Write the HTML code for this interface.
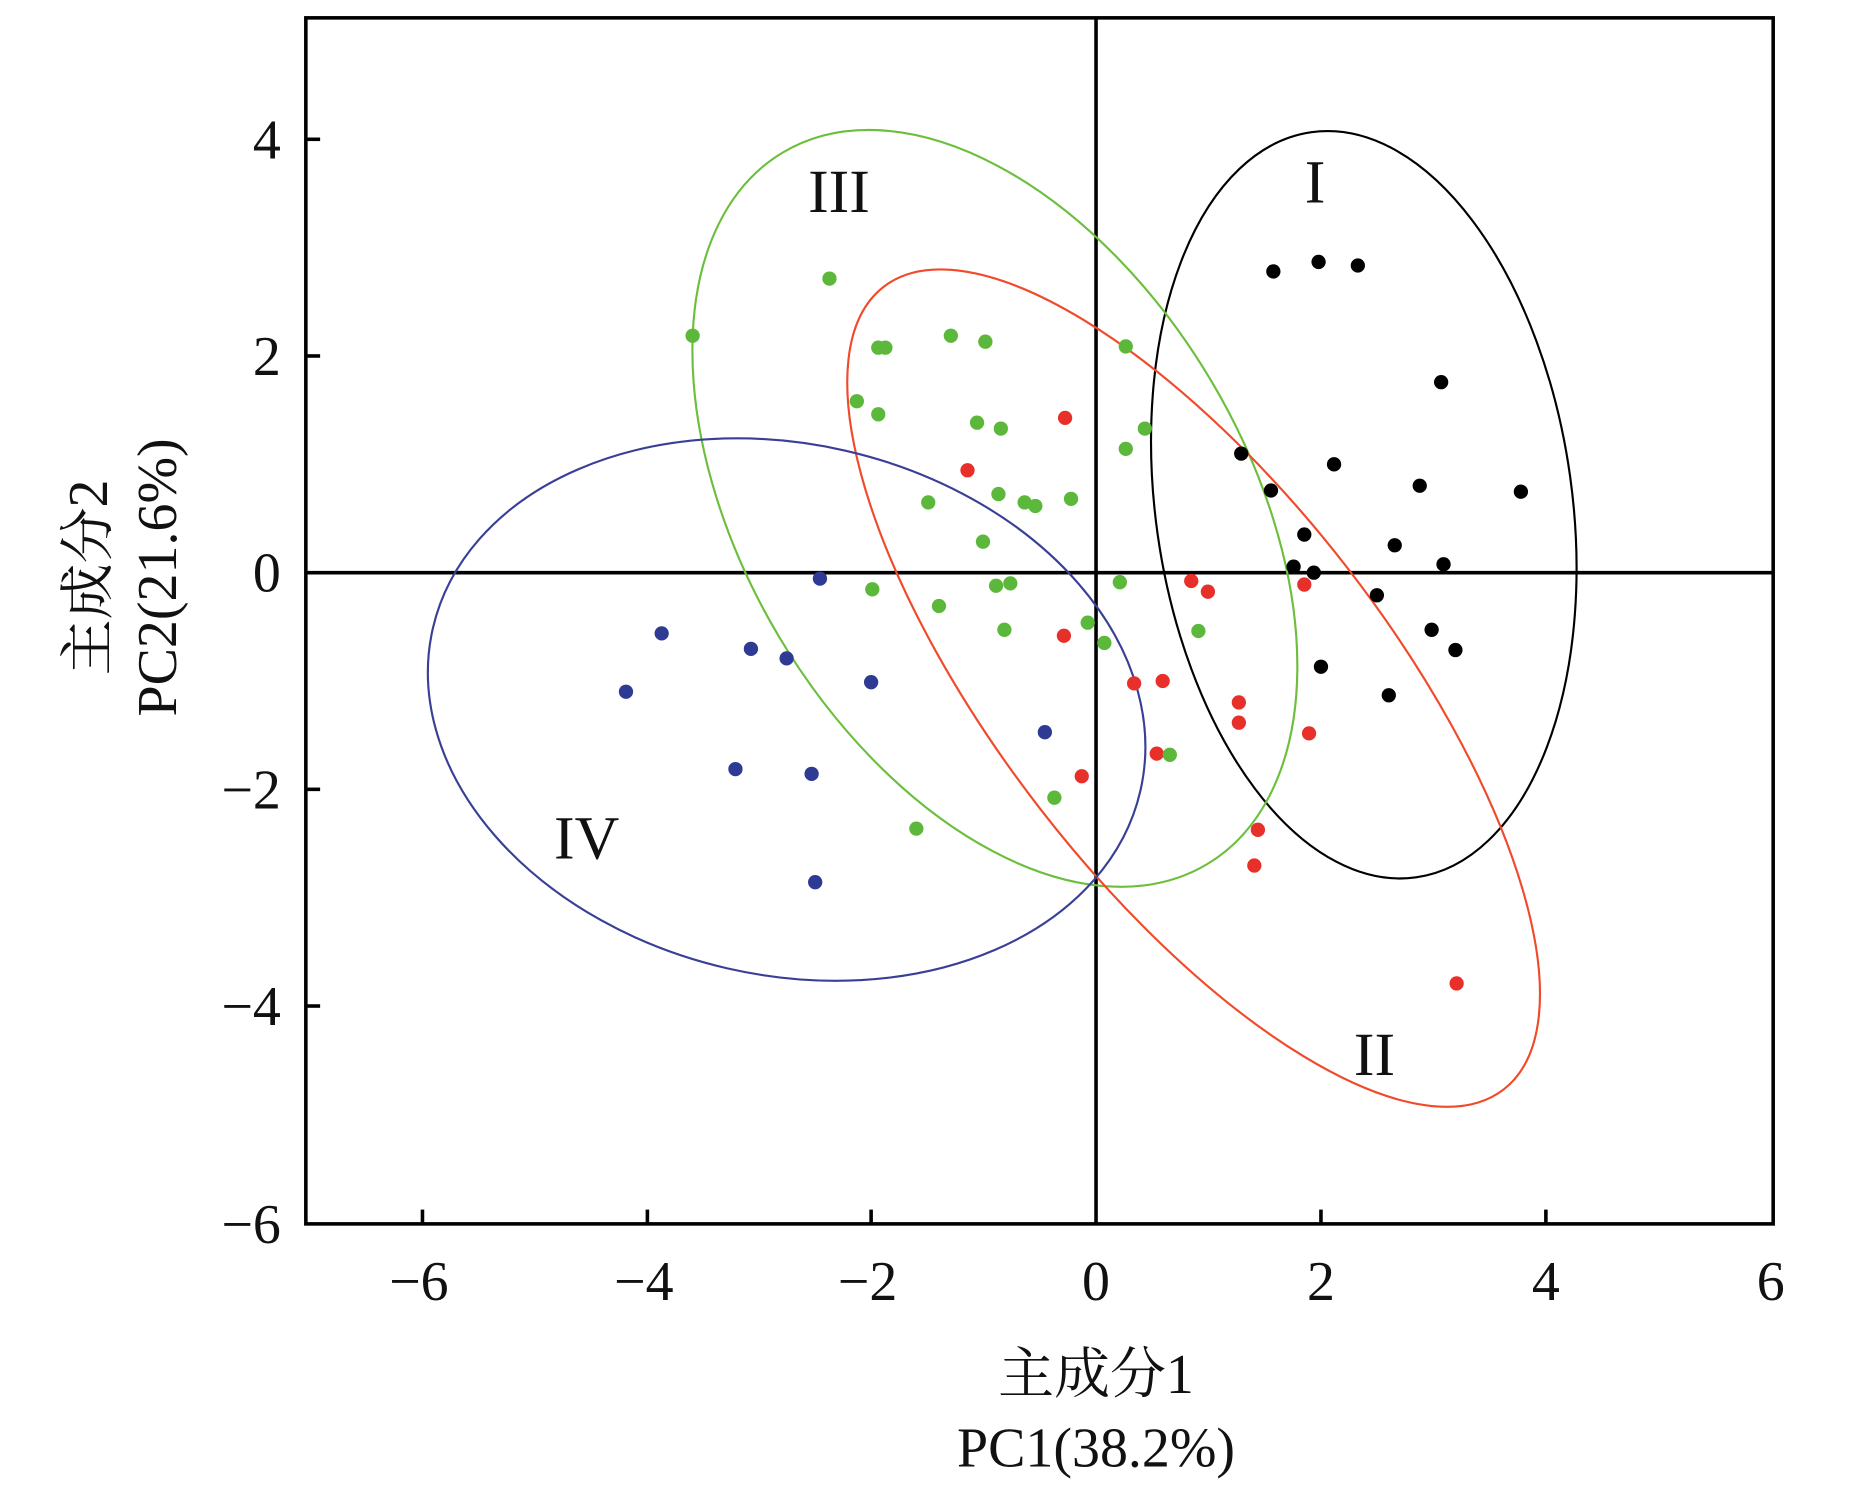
<!DOCTYPE html>
<html><head><meta charset="utf-8"><style>html,body{margin:0;padding:0;background:#fff}svg{display:block}</style></head>
<body>
<svg width="1866" height="1512" viewBox="0 0 1568 1270" preserveAspectRatio="none" xmlns="http://www.w3.org/2000/svg" font-family="'Liberation Serif','Noto Serif CJK SC',serif">
<rect x="257" y="15" width="1233" height="1013" fill="none" stroke="#000" stroke-width="3"/>
<line x1="921" y1="15" x2="921" y2="1028" stroke="#000" stroke-width="3"/>
<line x1="257" y1="481" x2="1490" y2="481" stroke="#000" stroke-width="3"/>
<g stroke="#000" stroke-width="3">
<line x1="355" y1="1028" x2="355" y2="1016"/><line x1="544" y1="1028" x2="544" y2="1016"/><line x1="732" y1="1028" x2="732" y2="1016"/><line x1="1110" y1="1028" x2="1110" y2="1016"/><line x1="1299" y1="1028" x2="1299" y2="1016"/>
<line x1="257" y1="117" x2="269" y2="117"/><line x1="257" y1="299" x2="269" y2="299"/><line x1="257" y1="663" x2="269" y2="663"/><line x1="257" y1="845" x2="269" y2="845"/>
</g>
<g font-size="47" fill="#111" text-anchor="end">
<text x="236" y="133">4</text><text x="236" y="315">2</text><text x="236" y="497">0</text><text x="236" y="679">−2</text><text x="236" y="861">−4</text><text x="236" y="1044">−6</text>
</g>
<g font-size="47" fill="#111" text-anchor="middle">
<text x="352" y="1092">−6</text><text x="541" y="1092">−4</text><text x="729" y="1092">−2</text><text x="921" y="1092">0</text><text x="1110" y="1092">2</text><text x="1299" y="1092">4</text><text x="1488" y="1092">6</text>
<text x="921" y="1170">主成分1</text><text x="921" y="1232">PC1(38.2%)</text>
</g>
<g font-size="47" fill="#111" text-anchor="middle">
<text transform="translate(90,485) rotate(-90)">主成分2</text>
<text transform="translate(148,485) rotate(-90)">PC2(21.6%)</text>
</g>
<g fill="none" stroke-width="1.8">
<ellipse cx="1146" cy="424" rx="175" ry="316" transform="rotate(-8 1146 424)" stroke="#000"/>
<ellipse cx="836" cy="427" rx="211" ry="348" transform="rotate(-30.8 836 427)" stroke="#6cbf3c"/>
<ellipse cx="1003" cy="578" rx="164" ry="426" transform="rotate(-37.7 1003 578)" stroke="#f04a2a"/>
<ellipse cx="661" cy="596" rx="223" ry="305" transform="rotate(-77.1 661 596)" stroke="#3a3f96"/>
</g>
<g font-size="52" fill="#111" text-anchor="middle">
<text x="1105" y="170">I</text><text x="1155" y="903">II</text><text x="705" y="178">III</text><text x="493" y="721">IV</text>
</g>
<g fill="#000">
<circle cx="1070" cy="228" r="6"/><circle cx="1108" cy="220" r="6"/><circle cx="1141" cy="223" r="6"/><circle cx="1211" cy="321" r="6"/><circle cx="1043" cy="381" r="6"/><circle cx="1121" cy="390" r="6"/><circle cx="1068" cy="412" r="6"/><circle cx="1193" cy="408" r="6"/><circle cx="1278" cy="413" r="6"/><circle cx="1096" cy="449" r="6"/><circle cx="1172" cy="458" r="6"/><circle cx="1087" cy="476" r="6"/><circle cx="1104" cy="481" r="6"/><circle cx="1213" cy="474" r="6"/><circle cx="1157" cy="500" r="6"/><circle cx="1203" cy="529" r="6"/><circle cx="1223" cy="546" r="6"/><circle cx="1110" cy="560" r="6"/><circle cx="1167" cy="584" r="6"/>
</g>
<g fill="#e8302a">
<circle cx="895" cy="351" r="6"/><circle cx="813" cy="395" r="6"/><circle cx="1001" cy="488" r="6"/><circle cx="1015" cy="497" r="6"/><circle cx="1096" cy="491" r="6"/><circle cx="894" cy="534" r="6"/><circle cx="953" cy="574" r="6"/><circle cx="977" cy="572" r="6"/><circle cx="972" cy="633" r="6"/><circle cx="1041" cy="590" r="6"/><circle cx="1041" cy="607" r="6"/><circle cx="1100" cy="616" r="6"/><circle cx="909" cy="652" r="6"/><circle cx="1057" cy="697" r="6"/><circle cx="1054" cy="727" r="6"/><circle cx="1224" cy="826" r="6"/>
</g>
<g fill="#5bb83a">
<circle cx="697" cy="234" r="6"/><circle cx="582" cy="282" r="6"/><circle cx="738" cy="292" r="6"/><circle cx="744" cy="292" r="6"/><circle cx="799" cy="282" r="6"/><circle cx="828" cy="287" r="6"/><circle cx="946" cy="291" r="6"/><circle cx="720" cy="337" r="6"/><circle cx="738" cy="348" r="6"/><circle cx="821" cy="355" r="6"/><circle cx="841" cy="360" r="6"/><circle cx="962" cy="360" r="6"/><circle cx="946" cy="377" r="6"/><circle cx="780" cy="422" r="6"/><circle cx="839" cy="415" r="6"/><circle cx="861" cy="422" r="6"/><circle cx="870" cy="425" r="6"/><circle cx="900" cy="419" r="6"/><circle cx="826" cy="455" r="6"/><circle cx="733" cy="495" r="6"/><circle cx="789" cy="509" r="6"/><circle cx="837" cy="492" r="6"/><circle cx="849" cy="490" r="6"/><circle cx="941" cy="489" r="6"/><circle cx="844" cy="529" r="6"/><circle cx="914" cy="523" r="6"/><circle cx="928" cy="540" r="6"/><circle cx="1007" cy="530" r="6"/><circle cx="983" cy="634" r="6"/><circle cx="886" cy="670" r="6"/><circle cx="770" cy="696" r="6"/>
</g>
<g fill="#2e3a94">
<circle cx="556" cy="532" r="6"/><circle cx="526" cy="581" r="6"/><circle cx="631" cy="545" r="6"/><circle cx="661" cy="553" r="6"/><circle cx="689" cy="486" r="6"/><circle cx="732" cy="573" r="6"/><circle cx="618" cy="646" r="6"/><circle cx="682" cy="650" r="6"/><circle cx="878" cy="615" r="6"/><circle cx="685" cy="741" r="6"/>
</g>
</svg>
</body></html>
